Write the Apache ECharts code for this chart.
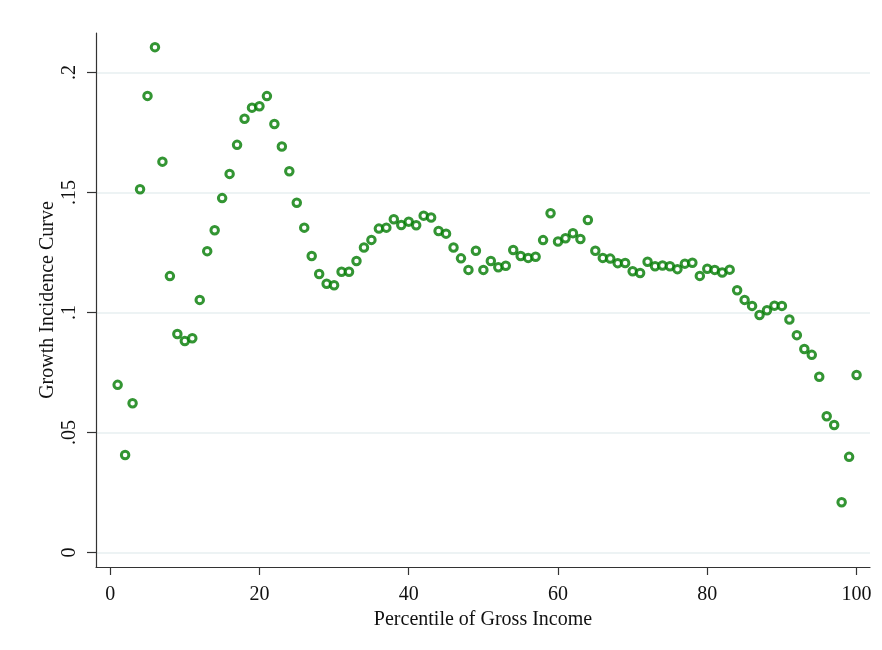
<!DOCTYPE html>
<html lang="en">
<head>
<meta charset="UTF-8">
<title>Growth Incidence Curve</title>
<script src="https://cdn.jsdelivr.net/npm/echarts@6/dist/echarts.min.js"></script>
<style>
  html, body { margin: 0; padding: 0; background: #fff; }
  #main { width: 882px; height: 650px; }
</style>
</head>
<body>
<div id="main"></div>
<script>
// percentiles 1..100
const percentiles = [];
for (let i = 1; i <= 100; i++) percentiles.push(i);

// growth incidence values
const growth = [
  0.0699, 0.0407, 0.0622, 0.1514, 0.1903, 0.2106, 0.1629, 0.1152, 0.0911, 0.0882,
  0.0893, 0.1053, 0.1256, 0.1343, 0.1477, 0.1578, 0.1699, 0.1808, 0.1854, 0.1860,
  0.1902, 0.1786, 0.1692, 0.1589, 0.1458, 0.1354, 0.1236, 0.1161, 0.1120, 0.1114,
  0.1170, 0.1170, 0.1215, 0.1271, 0.1303, 0.1350, 0.1354, 0.1389, 0.1365, 0.1379,
  0.1364, 0.1404, 0.1396, 0.1340, 0.1329, 0.1271, 0.1226, 0.1178, 0.1258, 0.1178,
  0.1215, 0.1189, 0.1195, 0.1261, 0.1236, 0.1228, 0.1233, 0.1302, 0.1414, 0.1296,
  0.1310, 0.1331, 0.1307, 0.1386, 0.1258, 0.1228, 0.1225, 0.1206, 0.1207, 0.1172,
  0.1165, 0.1212, 0.1193, 0.1196, 0.1193, 0.1181, 0.1204, 0.1208, 0.1153, 0.1183,
  0.1178, 0.1167, 0.1179, 0.1093, 0.1053, 0.1028, 0.0990, 0.1010, 0.1029, 0.1028,
  0.0971, 0.0906, 0.0848, 0.0824, 0.0733, 0.0568, 0.0532, 0.0210, 0.0399, 0.0740
];

const xTicks = [0, 20, 40, 60, 80, 100];
const yTicks = [0, 0.05, 0.1, 0.15, 0.2];
const yTickLabels = ['0', '.05', '.1', '.15', '.2'];

const serif = 'Liberation Serif';
const chart = echarts.init(document.getElementById('main'));

chart.setOption({
  backgroundColor: '#fff',
  animation: false,
  grid: { left: 96, right: 12, top: 33, bottom: 83 },
  xAxis: {
    type: 'value',
    min: -1.9,
    max: 101.8,
    name: 'Percentile of Gross Income',
    nameLocation: 'middle',
    nameGap: 37,
    nameTextStyle: { fontFamily: serif, fontSize: 20, color: '#111' },
    axisLine: { onZero: false, lineStyle: { color: '#333', width: 1.2 } },
    axisTick: { show: true, length: 8, customValues: xTicks, lineStyle: { color: '#333', width: 1.2 } },
    axisLabel: {
      customValues: xTicks,
      margin: 18,
      fontFamily: serif, fontSize: 20, color: '#111'
    },
    splitLine: { show: false }
  },
  yAxis: {
    type: 'value',
    min: -0.006,
    max: 0.2165,
    name: 'Growth Incidence Curve',
    nameLocation: 'middle',
    nameGap: 38,
    nameMoveOverlap: false,
    nameTextStyle: { fontFamily: serif, fontSize: 20, color: '#111' },
    axisLine: { show: true, onZero: false, lineStyle: { color: '#333', width: 1.2 } },
    axisTick: { show: true, length: 9, customValues: yTicks, lineStyle: { color: '#333', width: 1.2 } },
    axisLabel: {
      customValues: yTicks,
      rotate: 90,
      margin: 16,
      fontFamily: serif, fontSize: 20, color: '#111',
      formatter: function (v) {
        const i = yTicks.findIndex(t => Math.abs(t - v) < 1e-9);
        return i >= 0 ? yTickLabels[i] : '';
      }
    },
    splitLine: { show: false }
  },
  series: [{
    type: 'scatter',
    data: percentiles.map((p, i) => [p, growth[i]]),
    symbol: 'circle',
    symbolSize: 7.5,
    itemStyle: { color: '#fff', borderColor: '#007a00', borderWidth: 3 },
    markLine: {
      silent: true,
      symbol: 'none',
      label: { show: false },
      lineStyle: { color: '#e7eff1', width: 1.5, type: 'solid' },
      z: 0,
      data: yTicks.map(v => ({ yAxis: v }))
    }
  }]
});
</script>
</body>
</html>
